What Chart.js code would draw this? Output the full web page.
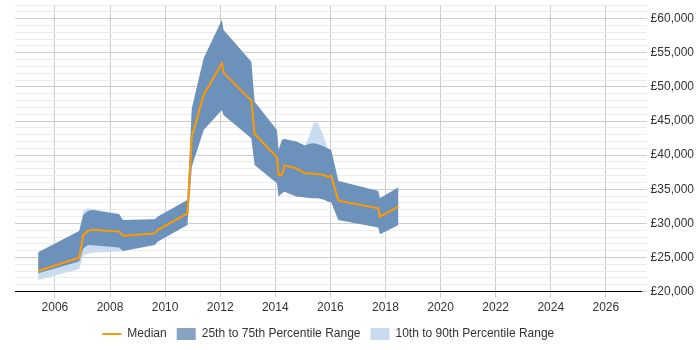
<!DOCTYPE html>
<html>
<head>
<meta charset="utf-8">
<script src="https://cdn.jsdelivr.net/npm/chart.js@4"></script>
<style>
  html, body { margin: 0; padding: 0; background: #fff; }
  #wrap { width: 700px; height: 350px; }
</style>
</head>
<body>
<div id="wrap"><canvas id="chart"></canvas></div>
<script>
// points in time (fractional years) shared by every series
const years = [2005.39, 2006.88, 2007.03, 2007.2, 2007.37, 2008.33, 2008.47, 2009.62, 2009.74, 2010.81,
  2010.97, 2011.4, 2012.06, 2012.12, 2013.13, 2013.25, 2014.06, 2014.12, 2014.24, 2014.33,
  2014.76, 2015.08, 2015.25, 2015.4, 2015.55, 2015.75, 2015.9, 2016.03, 2016.29, 2017.74, 2017.8, 2018.47];

const median = [23030, 24980, 28310, 28900, 29080, 28790, 28200, 28500, 29040, 31470,
  42710, 48820, 53450, 52090, 47990, 43110, 39680, 37100, 37100, 38460,
  38070, 37330, 37310, 37280, 37240, 37100, 36850, 36950, 33330, 32200, 30990, 32450];

const p25 = [22680, 24400, 26340, 26840, 26800, 26450, 25960, 26840, 27330, 29770,
  38320, 43690, 46620, 45890, 42470, 38560, 35870, 33920, 34400, 34650,
  33920, 33800, 33700, 33670, 33670, 33500, 33190, 33100, 30500, 29380, 28400, 29770];

const p75 = [25760, 28890, 31240, 31800, 31970, 31330, 30500, 30600, 30990, 33430,
  46860, 54180, 59800, 58340, 53700, 47840, 43690, 40760, 42230, 42370,
  41980, 41400, 41650, 41730, 41600, 41300, 41000, 40760, 36220, 34750, 33670, 35280];

const p10 = [21710, 23330, 25300, 25600, 25700, 25860, 25960, 26840, 27330, 29770,
  38320, 43690, 46620, 45890, 42470, 38560, 35870, 33920, 34400, 34650,
  33920, 33800, 33700, 33670, 33670, 33500, 33190, 33100, 30500, 29380, 28400, 29770];

const p90 = [25760, 28890, 31800, 32200, 32100, 31400, 30500, 30600, 30990, 33430,
  46860, 54180, 59800, 58340, 53700, 47840, 43690, 40760, 42230, 42370,
  41980, 41400, 43000, 44800, 44700, 42800, 41000, 40760, 36220, 34750, 33670, 35280];

const xTicks = [2006, 2008, 2010, 2012, 2014, 2016, 2018, 2020, 2022, 2024, 2026];
const yTicks = [];
for (let v = 20000; v <= 62000; v += 1000) yTicks.push(v);

function pts(arr) {
  return arr.map((v, i) => ({ x: years[i], y: v }));
}

const DARK = 'rgba(15,71,135,0.5)';
const LIGHT = 'rgb(201,219,238)';
const ORANGE = '#ff9900';
const FONT = { family: 'Liberation Sans, Arial, sans-serif', size: 12 };
const TINY = { family: 'Liberation Sans, Arial, sans-serif', size: 1 };

const isMajor = ctx => ctx.tick && ctx.tick.value % 5000 === 0;
const band = { pointRadius: 0, borderWidth: 0, pointStyle: 'rect', tension: 0 };

// centre the legend under the plot area rather than the whole canvas
const legendUnderPlot = {
  id: 'legendUnderPlot',
  afterLayout(chart) {
    if (chart.legend) chart.legend.right = chart.chartArea.right;
  }
};

new Chart(document.getElementById('chart'), {
  type: 'line',
  data: {
    datasets: [
      { label: 'Median', data: pts(median), borderColor: ORANGE, backgroundColor: ORANGE,
        borderWidth: 2, pointRadius: 0, pointStyle: 'line', fill: false, tension: 0 },
      { label: '25th to 75th Percentile Range', data: pts(p75), backgroundColor: DARK,
        borderColor: DARK, fill: '+1', ...band },
      { data: pts(p25), backgroundColor: DARK, borderColor: DARK, fill: false, ...band },
      { label: '10th to 90th Percentile Range', data: pts(p90), backgroundColor: LIGHT,
        borderColor: LIGHT, fill: '+1', ...band },
      { data: pts(p10), backgroundColor: LIGHT, borderColor: LIGHT, fill: false, ...band }
    ]
  },
  plugins: [legendUnderPlot],
  options: {
    responsive: true,
    maintainAspectRatio: false,
    animation: false,
    layout: { padding: { left: 15, right: 2, top: 5, bottom: 0 } },
    plugins: {
      tooltip: { enabled: false },
      legend: {
        position: 'bottom',
        labels: {
          color: '#333',
          font: FONT,
          usePointStyle: true,
          pointStyleWidth: 19,
          boxHeight: 12,
          padding: 10,
          filter: item => !!item.text
        }
      }
    },
    scales: {
      x: {
        type: 'linear',
        min: 2004.55,
        max: 2027.3,
        afterBuildTicks: scale => { scale.ticks = xTicks.map(v => ({ value: v })); },
        ticks: {
          color: '#333',
          font: FONT,
          padding: 3,
          maxRotation: 0,
          autoSkip: false,
          callback: v => String(v)
        },
        grid: { color: '#cccccc', tickLength: 6, tickColor: '#cccccc' },
        border: { display: true, color: '#000', width: 1 }
      },
      y: {
        position: 'right',
        min: 20000,
        max: 62000,
        afterBuildTicks: scale => { scale.ticks = yTicks.map(v => ({ value: v })); },
        ticks: {
          color: '#333',
          font: ctx => isMajor(ctx) ? FONT : TINY,
          autoSkip: false,
          padding: 4,
          callback: v => v % 5000 === 0 ? '£' + v.toLocaleString('en-GB') : ''
        },
        grid: {
          tickLength: 5,
          color: ctx => isMajor(ctx) ? '#cccccc' : '#ebebeb',
          tickColor: ctx => isMajor(ctx) ? '#cccccc' : '#ebebeb'
        },
        border: { display: false }
      }
    }
  }
});
</script>
</body>
</html>
